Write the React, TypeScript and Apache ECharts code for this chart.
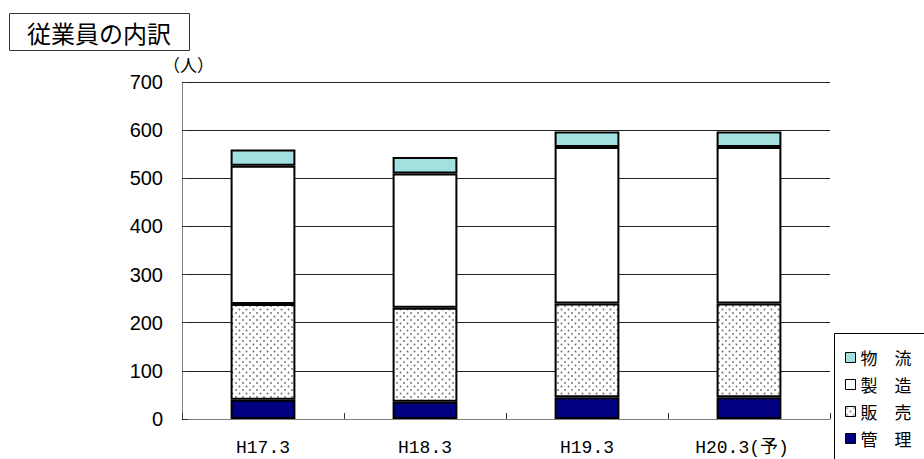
import React, { useEffect, useRef } from 'react';
import * as echarts from 'echarts';

const categories = ['H17.3', 'H18.3', 'H19.3', 'H20.3(予)'];
const kanri = [40, 36, 45, 45];
const hanbai = [199, 195, 195, 195];
const seizo = [287, 279, 325, 325];
const butsuryu = [34, 34, 32, 32];
const seriesNames = ['管理', '販売', '製造', '物流'];
const legendOrder = ['物流', '製造', '販売', '管理'];
const titleText = '従業員の内訳';
const unitText = '（人）';

function makeDots() {
  const c = document.createElement('canvas');
  c.width = 7;
  c.height = 7;
  const g = c.getContext('2d')!;
  g.fillStyle = '#fff';
  g.fillRect(0, 0, 7, 7);
  g.fillStyle = '#6e6e6e';
  g.beginPath();
  g.arc(1.5, 1.5, 0.95, 0, Math.PI * 2);
  g.fill();
  g.beginPath();
  g.arc(5, 5, 0.95, 0, Math.PI * 2);
  g.fill();
  return c;
}

export default function App() {
  const ref = useRef<HTMLDivElement>(null);
  useEffect(() => {
    document.body.style.margin = '0';
    const chart = echarts.init(ref.current!, null, { renderer: 'svg' });
    const border = { borderColor: '#000', borderWidth: 2 };
    const jp = "'Noto Sans CJK JP', sans-serif";
    const dots = makeDots();
    chart.setOption({
      animation: false,
      backgroundColor: '#fff',
      grid: { left: 182, right: 94, top: 82, bottom: 40 },
      xAxis: {
        type: 'category',
        data: categories.map((c, i) =>
          i === 3 ? { value: c, textStyle: { padding: [0, 14, 0, 0] } } : c
        ),
        axisLine: { lineStyle: { color: '#808080', width: 1 } },
        axisTick: { show: true, inside: true, length: 6, lineStyle: { color: '#333' } },
        axisLabel: {
          color: '#000',
          fontSize: 18,
          fontFamily: "'Liberation Mono', 'Noto Sans CJK JP', monospace",
          margin: 20,
        },
      },
      yAxis: {
        type: 'value',
        min: 0,
        max: 700,
        interval: 100,
        axisLine: { show: true, lineStyle: { color: '#808080', width: 1 } },
        axisTick: { show: true, inside: true, length: 6, lineStyle: { color: '#333' } },
        splitLine: { show: true, lineStyle: { color: '#222', width: 1 } },
        axisLabel: {
          color: '#000',
          fontSize: 20,
          fontFamily: "'Liberation Sans', Arial, sans-serif",
          margin: 19,
        },
      },
      legend: {
        orient: 'vertical',
        left: 845,
        top: 349,
        padding: 0,
        itemGap: 10,
        itemWidth: 10,
        itemHeight: 10,
        icon: 'rect',
        data: legendOrder,
        formatter: (n: string) => n[0] + '　' + n[1],
        itemStyle: { borderWidth: 1, borderColor: '#000' },
        textStyle: { fontSize: 17, lineHeight: 16, color: '#000', fontFamily: jp, padding: [0, 0, 0, 0] },
      },
      series: [
        {
          name: seriesNames[0],
          type: 'bar',
          stack: 'a',
          barWidth: '40%',
          data: kanri,
          itemStyle: { color: '#000080', ...border },
        },
        {
          name: seriesNames[1],
          type: 'bar',
          stack: 'a',
          data: hanbai,
          itemStyle: {
            color: { image: dots, repeat: 'repeat' },
            ...border,
          },
        },
        {
          name: seriesNames[2],
          type: 'bar',
          stack: 'a',
          data: seizo,
          itemStyle: { color: '#fff', ...border },
        },
        {
          name: seriesNames[3],
          type: 'bar',
          stack: 'a',
          data: butsuryu,
          itemStyle: { color: '#a3e0e0', ...border },
        },
      ],
      graphic: [
        {
          type: 'rect',
          shape: { x: 9.5, y: 13.5, width: 180, height: 37 },
          style: { fill: '#fff', stroke: '#333', lineWidth: 1 },
        },
        {
          type: 'text',
          x: 99,
          y: 32,
          style: {
            text: titleText,
            fontSize: 24,
            fontFamily: jp,
            fill: '#000',
            textAlign: 'center',
            textVerticalAlign: 'middle',
          },
        },
        {
          type: 'text',
          x: 163,
          y: 64,
          style: {
            text: unitText,
            fontSize: 17,
            fontFamily: jp,
            fill: '#000',
            textAlign: 'left',
            textVerticalAlign: 'middle',
          },
        },
        {
          type: 'rect',
          z: -1,
          shape: { x: 834.5, y: 333.5, width: 200, height: 200 },
          style: { fill: '#fff', stroke: '#000', lineWidth: 1 },
        },
      ],
    });
    return () => chart.dispose();
  }, []);
  return <div ref={ref} style={{ width: 924, height: 459 }} />;
}
